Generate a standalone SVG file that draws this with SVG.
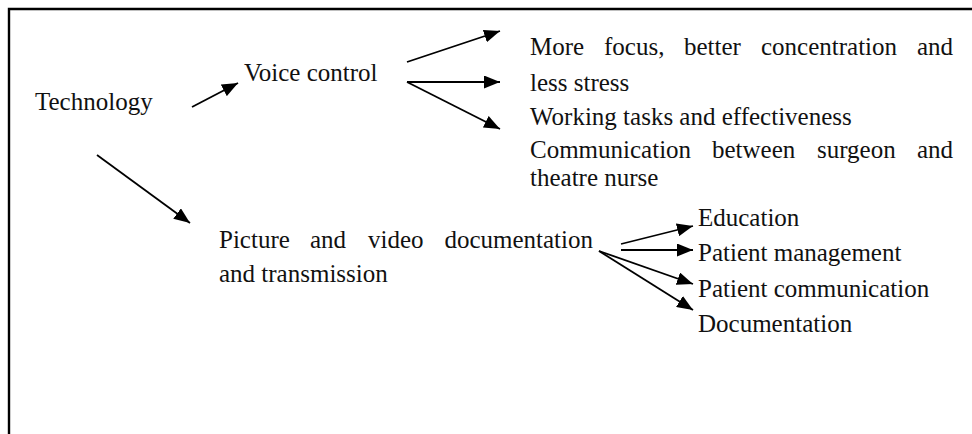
<svg xmlns="http://www.w3.org/2000/svg" width="972" height="434" viewBox="0 0 972 434" font-family="Liberation Serif, serif">
<style>
text{font-family:'Liberation Serif',serif;font-size:25px;fill:#111}
.c{stroke:#000;stroke-width:1.8;fill:none;marker-end:url(#ah)}
.e{text-anchor:end}
</style>
<defs>
<marker id="ah" markerUnits="userSpaceOnUse" markerWidth="16" markerHeight="13" refX="16" refY="6.5" orient="auto">
<path d="M0,0 L16,6.5 L0,13 z" fill="#000"/>
</marker>
</defs>
<rect width="972" height="434" fill="#fff"/>
<path d="M9,434 L9,9 L972,9" stroke="#000" stroke-width="2.4" fill="none"/>
<g id="connectors">
<line class="c" x1="192" y1="107" x2="238" y2="83"/>
<line class="c" x1="97" y1="155" x2="190" y2="223"/>
<line class="c" x1="407" y1="62" x2="500" y2="31"/>
<line class="c" x1="407" y1="82" x2="500" y2="82"/>
<line class="c" x1="407" y1="82" x2="500" y2="129"/>
<line class="c" x1="621" y1="244" x2="693" y2="226"/>
<line class="c" x1="621" y1="250" x2="693" y2="250"/>
<line class="c" x1="599" y1="251" x2="693" y2="284"/>
<line class="c" x1="599" y1="251" x2="693" y2="310"/>
</g>
<g id="technology"><text x="35" y="110">Technology</text></g>
<g id="voice-control"><text x="244" y="81">Voice control</text></g>
<g id="focus">
<text x="530" y="55">More</text><text x="604" y="55">focus,</text><text x="684" y="55">better</text><text x="761" y="55">concentration</text><text class="e" x="953" y="55">and</text>
<text x="530" y="91">less stress</text>
</g>
<g id="working"><text x="530" y="125">Working tasks and effectiveness</text></g>
<g id="communication">
<text x="530" y="158">Communication</text><text x="712" y="158">between</text><text x="817" y="158">surgeon</text><text class="e" x="953" y="158">and</text>
<text x="530" y="186">theatre nurse</text>
</g>
<g id="picture">
<text x="219" y="248">Picture</text><text x="310" y="248">and</text><text x="368" y="248">video</text><text class="e" x="593" y="248">documentation</text>
<text x="219" y="282">and transmission</text>
</g>
<g id="education"><text x="698" y="226">Education</text></g>
<g id="patient-management"><text x="698" y="261">Patient management</text></g>
<g id="patient-communication"><text x="698" y="297">Patient communication</text></g>
<g id="documentation"><text x="698" y="332">Documentation</text></g>
</svg>
